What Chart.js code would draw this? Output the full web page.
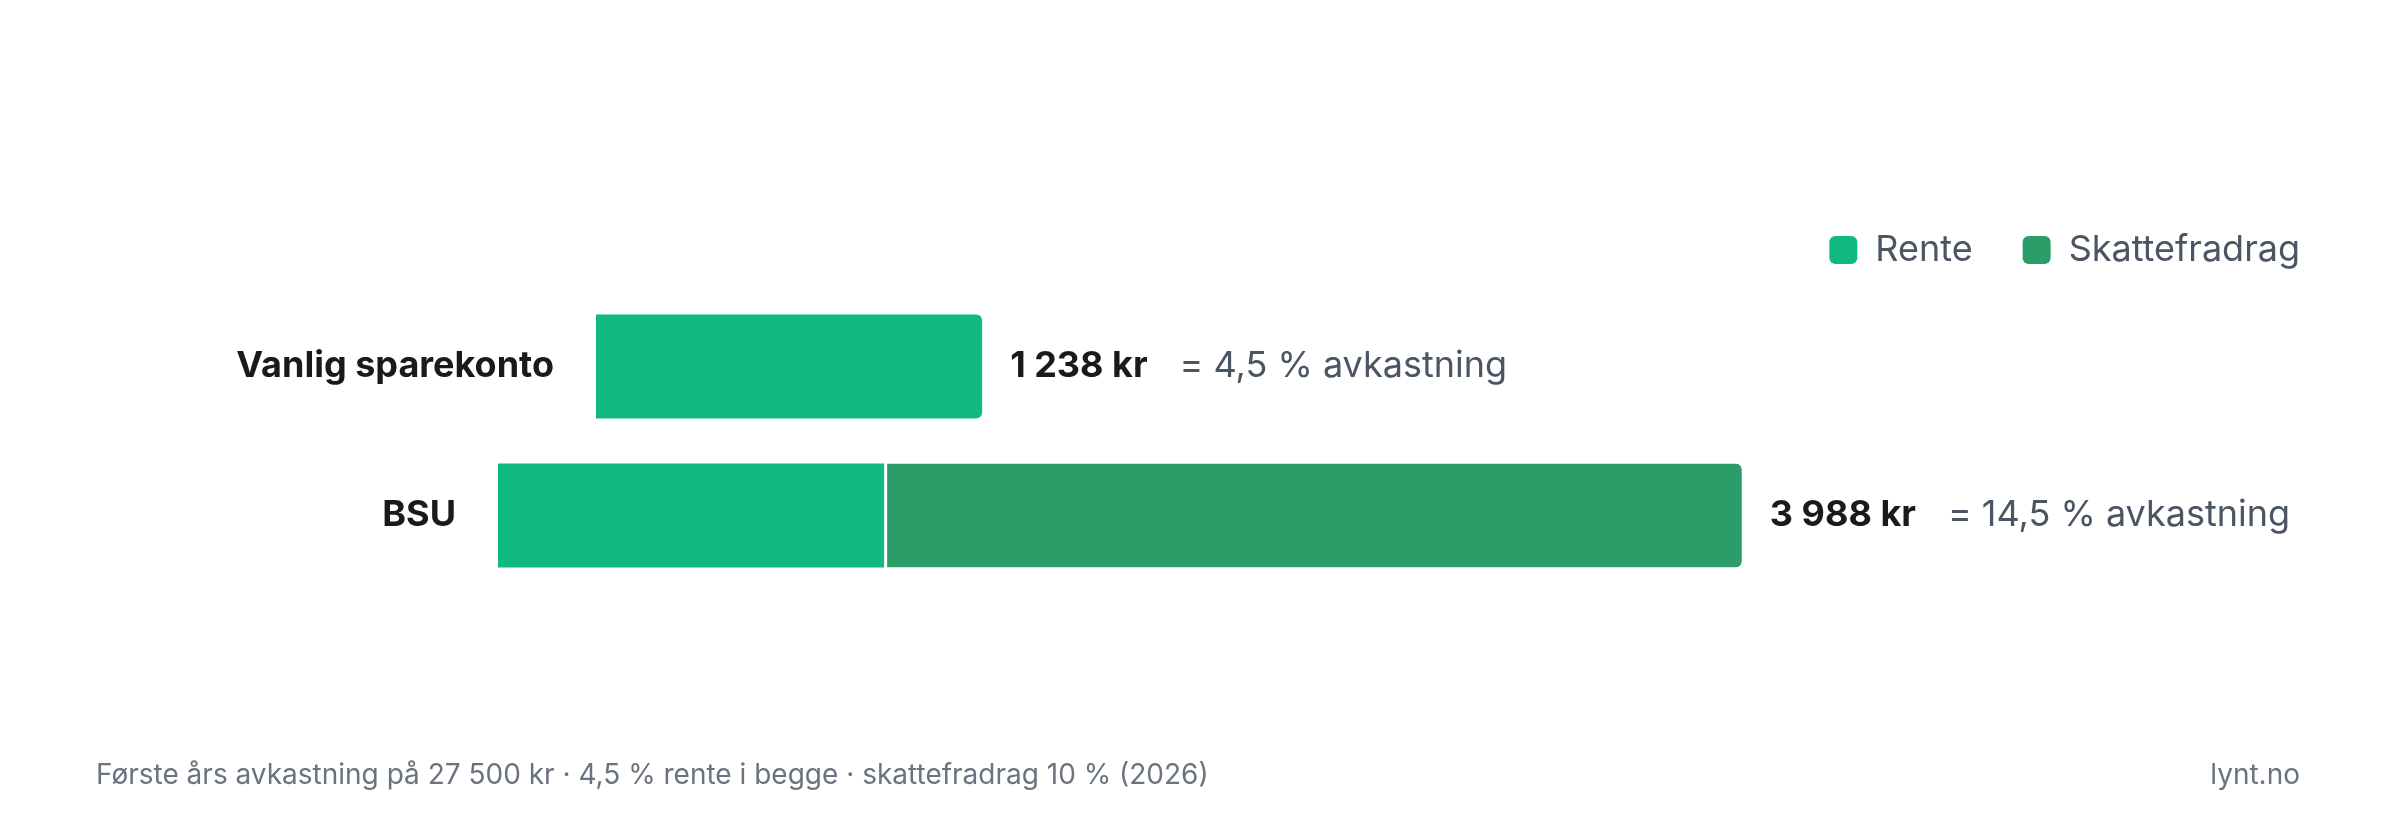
<!DOCTYPE html>
<html><head><meta charset="utf-8">
<script src="https://cdn.jsdelivr.net/npm/chart.js@4"></script>
<style>html,body{margin:0;padding:0;background:#fff}#wrap{width:2400px;height:840px}</style>
</head><body><div id="wrap"><canvas id="c" width="2400" height="840"></canvas></div>
<script>
const categories = ['Vanlig sparekonto', 'BSU'];
const seriesNames = ['Rente', 'Skattefradrag'];
const renteValues = [1238, 1238];
const skatteValues = [0, 2750];
const returnLabels = ['= 4,5 % avkastning', '= 14,5 % avkastning'];
const footerLeft = 'Første års avkastning på 27 500 kr · 4,5 % rente i begge · skattefradrag 10 % (2026)';
const footerRight = 'lynt.no';

const COLORS = ['#10b981', '#2a9d68'];
const LABEL_RIGHT = [554, 456];
const GAP = 42;
const F = 'Inter, "Noto Sans", sans-serif';

const custom = {
  id: 'custom',
  afterDatasetsUpdate(chart) {
    const ctx = chart.ctx;
    ctx.font = '700 36px ' + F;
    chart.data.datasets.forEach((ds, di) => {
      const meta = chart.getDatasetMeta(di);
      meta.data.forEach((el, i) => {
        const off = LABEL_RIGHT[i] + GAP;
        el.x += off; el.base += off;
      });
    });
  },
  afterDraw(chart) {
    const ctx = chart.ctx;
    ctx.save();
    ctx.textBaseline = 'middle';
    // row labels and value labels
    categories.forEach((cat, i) => {
      const el = chart.getDatasetMeta(0).data[i];
      const y = el.y;
      ctx.fillStyle = '#1a1a1a';
      ctx.font = '700 36px ' + F;
      ctx.textAlign = 'right';
      ctx.fillText(cat, LABEL_RIGHT[i], y);
      let end = 0;
      chart.data.datasets.forEach((ds, di) => {
        const e = chart.getDatasetMeta(di).data[i];
        if (ds.data[i] > 0) end = Math.max(end, e.x);
      });
      const total = renteValues[i] + skatteValues[i];
      const totalStr = total.toLocaleString('nb-NO').replace(/\s|\u00a0|\u202f/g, ' ') + ' kr';
      ctx.textAlign = 'left';
      const x0 = end + 28;
      ctx.fillText(totalStr, x0, y);
      const w = ctx.measureText(totalStr).width;
      ctx.font = '400 36px ' + F;
      ctx.fillStyle = '#4b5563';
      ctx.fillText(returnLabels[i], x0 + w + 32, y);
    });
    // legend
    ctx.font = '400 36px ' + F;
    ctx.textAlign = 'left';
    let x = 2300;
    const items = seriesNames.map((n, i) => ({n, c: COLORS[i]})).reverse();
    items.forEach((it, k) => {
      const tw = ctx.measureText(it.n).width;
      x -= tw;
      ctx.fillStyle = '#4b5563';
      ctx.fillText(it.n, x, 250);
      x -= 46;
      ctx.fillStyle = it.c;
      ctx.beginPath();
      ctx.roundRect(x, 236, 28, 28, 6);
      ctx.fill();
      x -= 50;
    });
    // footer
    ctx.font = '400 28px ' + F;
    ctx.fillStyle = '#6b7280';
    ctx.fillText(footerLeft, 96, 776);
    ctx.textAlign = 'right';
    ctx.fillText(footerRight, 2300, 776);
    ctx.restore();
  }
};

new Chart(document.getElementById('c'), {
  type: 'bar',
  data: {
    labels: categories,
    datasets: [
      { label: seriesNames[0], data: renteValues, backgroundColor: COLORS[0],
        borderRadius: c => (skatteValues[c.dataIndex] > 0 ? 0 : {topRight: 6, bottomRight: 6}),
        borderSkipped: false, borderWidth: 0 },
      { label: seriesNames[1], data: skatteValues, backgroundColor: COLORS[1],
        borderRadius: {topRight: 6, bottomRight: 6}, borderSkipped: false,
        borderWidth: {left: 3, right: 0, top: 0, bottom: 0}, borderColor: '#ffffff' }
    ]
  },
  options: {
    indexAxis: 'y',
    responsive: false,
    animation: false,
    events: [],
    layout: { padding: { top: 292, bottom: 250, left: 0, right: 0 } },
    datasets: { bar: { barPercentage: 1, categoryPercentage: 0.698, inflateAmount: 0 } },
    scales: {
      x: { display: false, stacked: true, min: 0, max: 2400 / 0.3119 },
      y: { display: false, stacked: true }
    },
    plugins: { legend: { display: false }, tooltip: { enabled: false } }
  },
  plugins: [custom]
});
</script></body></html>
